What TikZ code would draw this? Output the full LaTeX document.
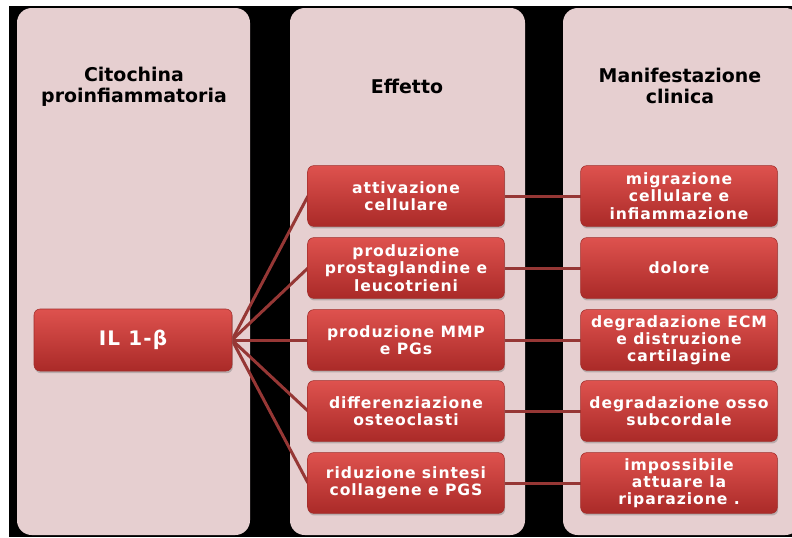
\documentclass[tikz,border=0pt]{standalone}
\usepackage{fontspec}
\setmainfont{DejaVu Sans}
\newfontfamily\boxfont[LetterSpace=6]{DejaVu Sans}
\usetikzlibrary{shadows}

\definecolor{colpink}{RGB}{230,207,208}
\definecolor{boxtop}{RGB}{222,82,78}
\definecolor{boxbot}{RGB}{170,42,40}
\definecolor{boxedge}{RGB}{160,45,42}
\definecolor{linkred}{RGB}{150,55,53}

\tikzset{every picture/.style={line width=0.75pt}}
\tikzset{
  column/.style={fill=colpink, rounded corners=11pt},
  header/.style={align=center, font=\bfseries\fontsize{14.2}{15.5}\selectfont},
  redbox/.style={rounded corners=4.5pt, top color=boxtop, bottom color=boxbot, draw=boxedge, line width=0.4pt,
    text=white, align=center, font=\boxfont\bfseries\fontsize{11.7}{12.9}\selectfont,
    minimum width=147.5pt, minimum height=45.5pt, inner sep=1pt,
    drop shadow={opacity=0.45, shadow xshift=0.6pt, shadow yshift=-1.6pt}},
  link/.style={draw=linkred, line width=2.25pt}
}

\begin{document}
\begin{tikzpicture}[x=0.75pt,y=0.75pt,yscale=-1,xscale=1]
\useasboundingbox (0,0) rectangle (792,537);
\clip (0,0) rectangle (792,537);

%Shape: black background
\fill [black] (9,6) rectangle (800,537);
%Shape: columns
\fill [column] (17,8) rectangle (250,535);
\fill [column] (290,8) rectangle (525,535);
\fill [column] (563,8) rectangle (800,535);

% Text Node
\node [header] (hcito) at (134,87) {Citochina\\proinfiammatoria};
% Text Node
\node [header] (heff) at (407,86) {Effetto};
% Text Node
\node [header] (hman) at (680,86) {Manifestazione\\clinica};

% Connectors
\coordinate (il-e) at (232,340);
\foreach \y [count=\i] in {196,268,340,411,483} {
  \coordinate (eff\i-w) at (308,\y);
  \coordinate (eff\i-e) at (505,\y);
  \coordinate (man\i-w) at (581,\y);
  \draw [link] (il-e) -- (eff\i-w);
  \draw [link] (eff\i-e) -- (man\i-w);
}

% Boxes
\node [redbox, minimum width=148.5pt, minimum height=46.5pt, font=\boxfont\bfseries\fontsize{15}{16}\selectfont] (il) at (133,340) {IL 1-β};

\node [redbox] (eff1) at (406,196) {attivazione\\cellulare};
\node [redbox] (eff2) at (406,268) {produzione\\prostaglandine e\\leucotrieni};
\node [redbox] (eff3) at (406,340) {produzione MMP\\e PGs};
\node [redbox] (eff4) at (406,411) {differenziazione\\osteoclasti};
\node [redbox] (eff5) at (406,483) {riduzione sintesi\\collagene e PGS};

\node [redbox] (man1) at (679,196) {migrazione\\cellulare e\\infiammazione};
\node [redbox] (man2) at (679,268) {dolore};
\node [redbox] (man3) at (679,340) {degradazione ECM\\e distruzione\\cartilagine};
\node [redbox] (man4) at (679,411) {degradazione osso\\subcordale};
\node [redbox] (man5) at (679,483) {impossibile\\attuare la\\riparazione .};

\end{tikzpicture}
\end{document}
